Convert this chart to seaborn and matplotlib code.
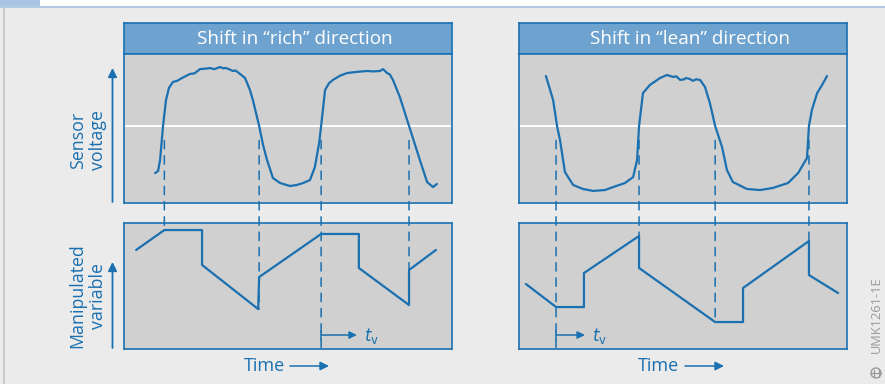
import matplotlib
matplotlib.use("Agg")
import numpy as np
import pandas as pd
import matplotlib.pyplot as plt
import seaborn as sns
from matplotlib.patches import Rectangle, ConnectionPatch, Circle

# ---------------- data (time and values in % of panel range) ----------------
rich_sensor_t = [9.5, 10.4, 11.0, 11.9, 12.8, 13.7, 14.9, 16.2, 17.7, 20.1, 21.5, 23.2, 25.0, 26.2,
                 27.5, 29.3, 30.2, 31.1, 32.2, 33.2, 34.0, 35.4, 36.9, 38.4, 39.3, 41.2, 42.4,
                 43.6, 45.4, 47.6, 50.6, 52.7, 54.6, 56.7, 58.2, 59.5, 60.1, 61.3, 62.5, 63.7,
                 66.0, 68.0, 71.0, 74.1, 76.0, 78.0, 79.0, 80.2, 81.0, 82.0, 84.1, 86.9, 90.2,
                 92.4, 94.2, 95.4]
rich_sensor_v = [20.1, 21.5, 28.9, 51.7, 69.1, 77.2, 81.2, 82.0, 83.9, 86.6, 87.0, 89.9, 90.2, 90.6,
                 89.8, 91.3, 90.4, 90.6, 89.6, 88.6, 88.9, 86.6, 83.9, 75.8, 69.1, 51.7, 38.9,
                 28.9, 16.8, 13.4, 11.4, 12.1, 13.4, 15.4, 24.2, 40.3, 51.7, 75.8, 80.4, 82.6,
                 85.6, 87.2, 88.0, 88.6, 88.3, 88.6, 89.8, 87.2, 86.4, 82.6, 71.1, 51.7, 28.9,
                 14.1, 10.7, 12.8]
rich_ctrl_t = [3.7, 12.3, 23.8, 23.8, 40.9, 41.2, 60.1, 71.6, 71.6, 86.9, 86.9, 95.1]
rich_ctrl_v = [78.6, 94.4, 94.4, 66.7, 31.7, 57.1, 91.3, 91.3, 64.3, 34.9, 62.7, 78.6]

lean_sensor_t = [8.2, 9.5, 10.4, 11.6, 12.5, 14.0, 16.5, 19.5, 22.6, 26.2, 28.7, 32.3, 34.8,
                 36.0, 36.6, 37.8, 39.9, 43.0, 45.1, 47.0, 48.0, 49.1, 50.2, 50.9, 52.1, 53.0,
                 54.0, 55.2, 56.7, 58.2, 59.8, 61.9, 63.4, 65.2, 69.5, 73.5, 77.4, 82.0, 85.1,
                 87.8, 88.4, 89.3, 90.9, 92.4, 93.9]
lean_sensor_v = [85.2, 75.8, 69.1, 51.7, 42.3, 20.8, 12.1, 9.4, 8.1, 8.7, 10.7, 13.4, 17.4,
                 28.9, 51.7, 73.8, 79.2, 83.9, 85.9, 84.6, 85.0, 82.6, 82.9, 83.9, 83.2, 82.0,
                 83.0, 82.6, 77.9, 67.1, 51.7, 37.6, 22.1, 14.1, 9.4, 8.7, 10.1, 13.4, 20.1,
                 30.2, 51.7, 62.4, 73.8, 79.2, 85.2]
lean_ctrl_t = [2.1, 11.3, 19.8, 19.8, 36.6, 36.6, 59.8, 68.3, 68.3, 88.4, 88.4, 97.3]
lean_ctrl_v = [51.6, 33.3, 33.3, 60.3, 89.7, 64.3, 21.4, 21.4, 48.4, 85.7, 58.7, 44.4]

rich_switch_t = [12.3, 41.2, 60.1, 86.9]
rich_switch_end = [94.4, 31.7, 0.0, 34.9]
lean_switch_t = [11.3, 36.6, 59.8, 88.4]
lean_switch_end = [0.0, 89.7, 21.4, 85.7]

threshold = 51.7
panel_titles = ["Shift in \u201crich\u201d direction", "Shift in \u201clean\u201d direction"]
tv_rich = [60.1, 71.0]
tv_lean = [11.3, 20.1]

# ---------------- style ----------------
sns.set_style("white")
plt.rcParams['font.family'] = ['Open Sans', 'DejaVu Sans']

BLUE = "#1a70b0"
TITLE_FILL = "#6fa3cf"
PLOT_FILL = "#cfd0cf"
BG = "#ebebeb"
W, H = 885, 384

fig = plt.figure(figsize=(W / 100, H / 100), dpi=100)
fig.patch.set_facecolor(BG)

def box(x0, y0, x1, y1):
    return [x0 / W, 1 - y1 / H, (x1 - x0) / W, (y1 - y0) / H]

# overlay (pixel coordinates) for decorations
bg = fig.add_axes([0, 0, 1, 1], zorder=0)
bg.set_xlim(0, W)
bg.set_ylim(H, 0)
bg.axis("off")
bg.add_patch(Rectangle((0, 0), W, 6, color="white", lw=0))
bg.add_patch(Rectangle((0, 0), 40, 6, color="#a9c4e2", lw=0))
bg.add_patch(Rectangle((0, 6), W, 2.2, color="#b1c9e3", lw=0))
bg.add_patch(Rectangle((3, 8), 2.2, H - 8, color="#c9c9c9", lw=0))

def style_ax(ax, fill):
    ax.set_facecolor(fill)
    for s in ax.spines.values():
        s.set_color(BLUE)
        s.set_linewidth(1.2)
        s.set_visible(True)
    ax.set_xticks([])
    ax.set_yticks([])
    ax.set_xlabel("")
    ax.set_ylabel("")

panels = [
    (124, panel_titles[0], rich_sensor_t, rich_sensor_v, rich_ctrl_t, rich_ctrl_v,
     rich_switch_t, rich_switch_end, tv_rich),
    (519, panel_titles[1], lean_sensor_t, lean_sensor_v, lean_ctrl_t, lean_ctrl_v,
     lean_switch_t, lean_switch_end, tv_lean),
]

for x0, title, st, sv, ct, cv, sw_t, sw_end, tv in panels:
    x1 = x0 + 328
    ax_t = fig.add_axes(box(x0, 23, x1, 54), zorder=2)
    style_ax(ax_t, TITLE_FILL)
    ax_t.text(0.52, 0.47, title, transform=ax_t.transAxes, ha="center", va="center",
              color="white", fontsize=13.6)

    ax_u = fig.add_axes(box(x0, 54, x1, 203), zorder=2)
    ax_l = fig.add_axes(box(x0, 223, x1, 349), zorder=2)

    ax_u.axhline(threshold, color="white", lw=1.4, zorder=1)
    sdf = pd.DataFrame({"t": st, "v": sv})
    sns.lineplot(data=sdf, x="t", y="v", ax=ax_u, sort=False, estimator=None,
                 color=BLUE, lw=1.6, zorder=3)
    cdf = pd.DataFrame({"t": ct, "v": cv})
    sns.lineplot(data=cdf, x="t", y="v", ax=ax_l, sort=False, estimator=None,
                 color=BLUE, lw=1.6, zorder=3)
    for ax in (ax_u, ax_l):
        ax.set_xlim(0, 100)
        ax.set_ylim(0, 100)
        style_ax(ax, PLOT_FILL)

    for t, ve in zip(sw_t, sw_end):
        con = ConnectionPatch(xyA=(t, 42), coordsA=ax_u.transData,
                              xyB=(t, ve), coordsB=ax_l.transData,
                              color=BLUE, lw=1.1, linestyle=(0, (5.5, 4.5)), zorder=5)
        fig.add_artist(con)

    # t_v marker
    ax_l.plot([tv[0], tv[0]], [7.1, 14.3], color=BLUE, lw=1.1)
    ax_l.annotate("", xy=(tv[1], 11.1), xytext=(tv[0], 11.1),
                  arrowprops=dict(arrowstyle="-|>", color=BLUE, lw=1.1,
                                  mutation_scale=11, shrinkA=0, shrinkB=0))
    ax_l.text(tv[1] + 2.2, 10.0, r"$t_\mathrm{v}$", color=BLUE, fontsize=12,
              ha="left", va="center")

    # Time label
    tc = x0 + 140
    bg.text(tc, 366, "Time", color=BLUE, fontsize=13.0, ha="center", va="center")
    bg.annotate("", xy=(tc + 65, 366), xytext=(tc + 26, 366),
                arrowprops=dict(arrowstyle="-|>", color=BLUE, lw=1.1,
                                mutation_scale=13, shrinkA=0, shrinkB=0))

# y-axis arrows and labels
bg.annotate("", xy=(112.5, 68), xytext=(112.5, 202),
            arrowprops=dict(arrowstyle="-|>", color=BLUE, lw=1.3,
                            mutation_scale=13, shrinkA=0, shrinkB=0))
bg.annotate("", xy=(112.5, 262), xytext=(112.5, 348),
            arrowprops=dict(arrowstyle="-|>", color=BLUE, lw=1.3,
                            mutation_scale=13, shrinkA=0, shrinkB=0))
bg.text(88, 140, "Sensor\nvoltage", rotation=90, color=BLUE, fontsize=12.8,
        ha="center", va="center", multialignment="center", linespacing=1.2)
bg.text(88, 296, "Manipulated\nvariable", rotation=90, color=BLUE, fontsize=12.8,
        ha="center", va="center", multialignment="center", linespacing=1.2)

# catalogue code
bg.text(876, 315, "UMK1261-1E", rotation=90, color="#9a9a9a", fontsize=9.2,
        ha="center", va="center")
bg.add_patch(Circle((876, 373), 5, fill=False, ec="#9a9a9a", lw=1.0))
bg.plot([873.5, 873.5], [369.5, 376.5], color="#9a9a9a", lw=0.9)
bg.plot([878.5, 878.5], [369.5, 376.5], color="#9a9a9a", lw=0.9)
bg.plot([871, 881], [373, 373], color="#9a9a9a", lw=0.9)

fig.savefig("out.png", dpi=100, facecolor=fig.get_facecolor())
